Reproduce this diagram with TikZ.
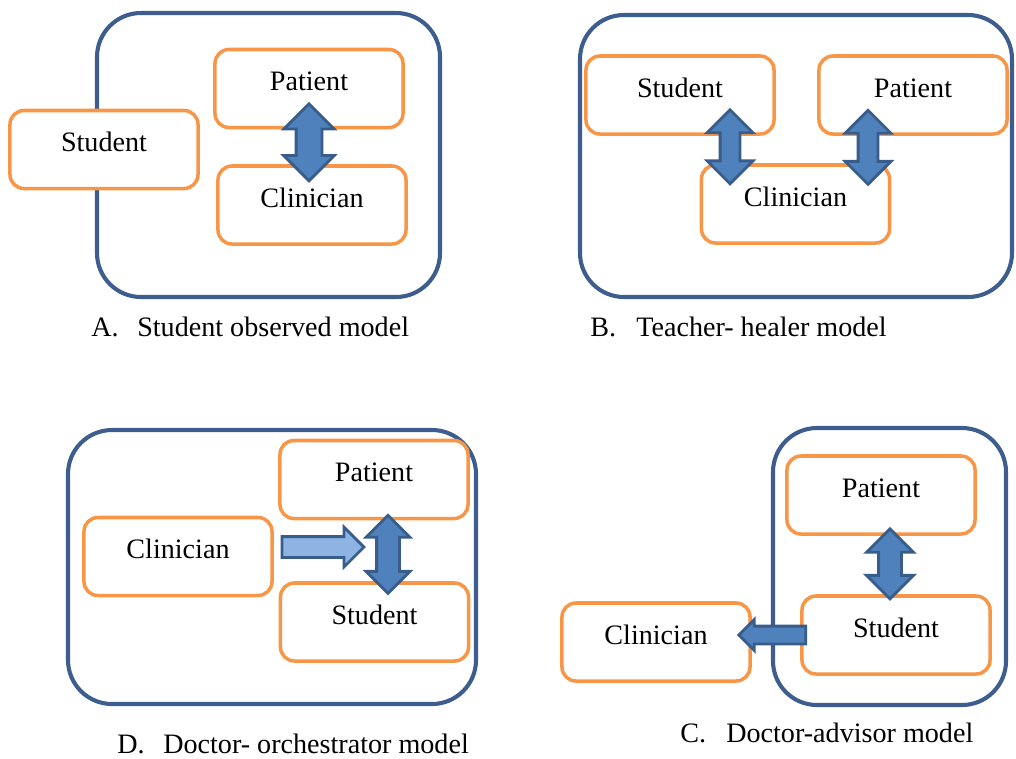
\documentclass[tikz,border=0pt]{standalone}
\usepackage{fontspec}
\setmainfont{Liberation Serif}
\usetikzlibrary{shapes.arrows,calc}

\definecolor{boxorange}{HTML}{F79646}
\definecolor{frameblue}{HTML}{3C5D8E}
\definecolor{arrowfill}{HTML}{4F81BD}
\definecolor{arrowedge}{HTML}{385D8A}
\definecolor{arrowlight}{HTML}{8DB4E2}

\tikzset{
  frame/.style={draw=frameblue, line width=2.9pt, rounded corners=1.1cm},
  obox/.style={draw=boxorange, fill=white, line width=2.5pt, rounded corners=0.35cm,
    minimum width=4.7cm, minimum height=1.95cm, inner sep=0pt,
    text height=0.47cm, text depth=0.35cm, font=\fontsize{20}{24}\selectfont},
  caption/.style={anchor=base west, inner sep=0pt, font=\fontsize{20}{24}\selectfont},
  % length / shaft width / head width, all in px
  blockarr/.style args={#1/#2/#3}{draw=arrowedge, line width=2pt, inner xsep=0pt,
    minimum height=#1*0.025cm, inner ysep=#2*0.0125cm},
  dblarr/.style={blockarr=#1, double arrow, fill=arrowfill, double arrow head extend=0.3cm},
  sglarr/.style={blockarr=#1, single arrow, fill=arrowfill, single arrow head extend=0.22cm}
}
\newcommand{\lbl}[1]{\makebox[1.15cm][l]{#1}}

\begin{document}
\begin{tikzpicture}[x=0.025cm, y=-0.025cm]
\useasboundingbox (0,0) rectangle (1016,758);

% === A: STUDENT OBSERVED ===
\draw[frame] (97,13) rectangle (440,297);
\node[obox] (sa) at (104,149.5) {Student};
\node[obox] (pa) at (309,88.5) {Patient};
\node[obox] (ca) at (312,205) {Clinician};
\node[dblarr=77/23/48, rotate=90, double arrow head extend=0.31cm] (aa) at ($(pa.south)+(0,13)$) {};
\node[caption] (capa) at (91,336) {\lbl{A.}Student observed model};

% === B: TEACHER- HEALER ===
\draw[frame] (580,15) rectangle (1012,297);
\node[obox] (sb) at (680,95) {Student};
\node[obox] (pb) at (913,95) {Patient};
\node[obox] (cb) at (795.5,204) {Clinician};
\node[dblarr=74/17/43, rotate=90, double arrow head extend=0.325cm] (ab1) at ($(sb.south)+(50,11)$) {};
\node[dblarr=74/17/43, rotate=90, double arrow head extend=0.325cm] (ab2) at ($(pb.south)+(-45,11.5)$) {};
\node[caption] (capb) at (590,336) {\lbl{B.}Teacher- healer model};

% === D: DOCTOR- ORCHESTRATOR ===
\draw[frame] (68,430) rectangle (476,704);
\node[obox] (pd) at (374,479.5) {Patient};
\node[obox] (cd) at (178,556.5) {Clinician};
\node[obox] (sd) at (374.5,622) {Student};
\node[sglarr=82/18/37, fill=arrowlight, single arrow head extend=0.2375cm] (ad1) at ($(cd.east)+(44,-9.5)$) {};
\node[dblarr=78/20/41, rotate=90, double arrow head extend=0.2625cm] (ad2) at ($(pd.south)+(14,34)$) {};
\node[caption] (capd) at (117,753) {\lbl{D.}Doctor- orchestrator model};

% === C: DOCTOR-ADVISOR ===
\draw[frame] (773,428) rectangle (1006,705);
\node[obox] (pc) at (881,495) {Patient};
\node[obox] (sc) at (896,635) {Student};
\node[obox] (cc) at (656,642) {Clinician};
\node[dblarr=70/20/44, rotate=90, double arrow head extend=0.3cm] (ac1) at ($(pc.south)+(9,28)$) {};
\node[sglarr=67/15/28, rotate=180, single arrow head extend=0.1625cm] (ac2) at ($(sc.west)+(-23.5,0)$) {};
\node[caption] (capc) at (680,742) {\lbl{C.}Doctor-advisor model};

\end{tikzpicture}
\end{document}
